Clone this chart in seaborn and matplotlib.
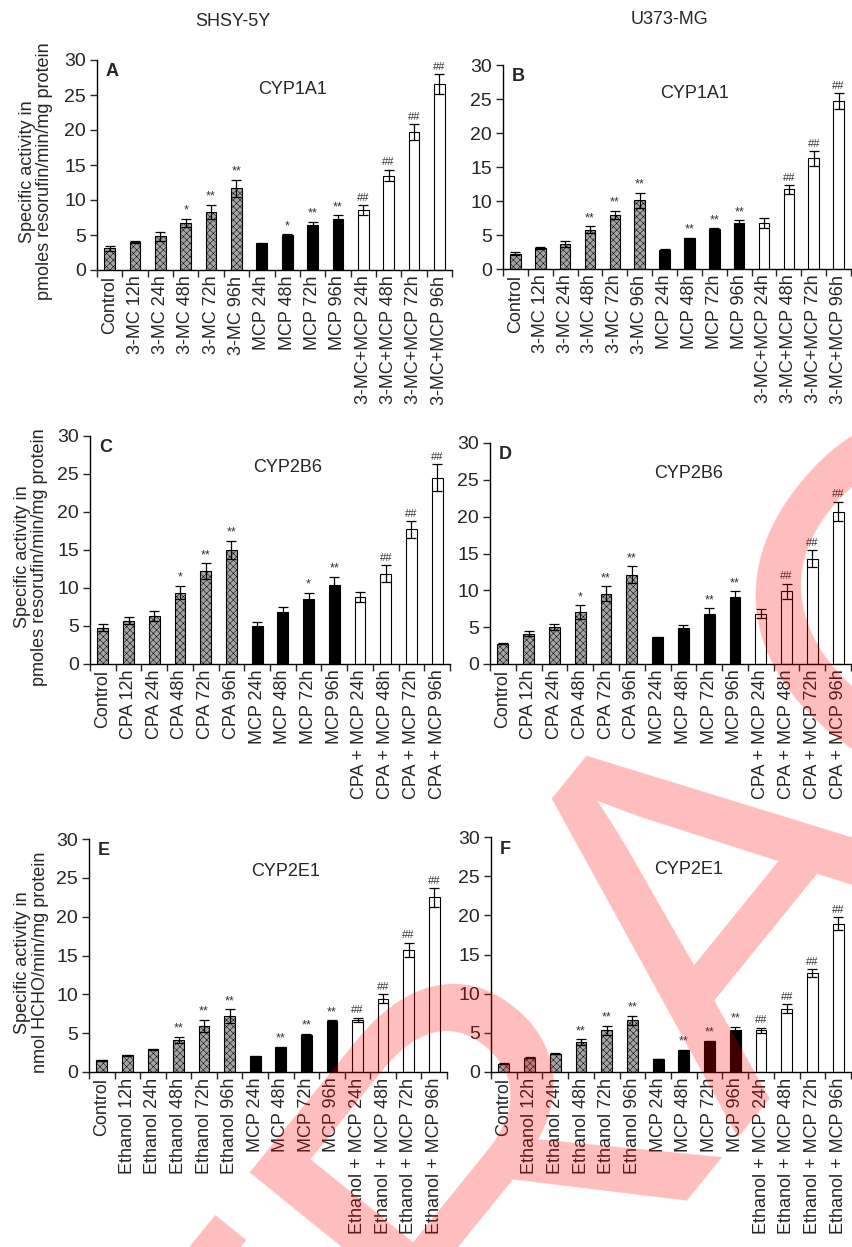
import numpy as np
import pandas as pd
import matplotlib
matplotlib.use('Agg')
import matplotlib.pyplot as plt
import seaborn as sns

# ---- data ----
groups = ['ind'] * 6 + ['mcp'] * 4 + ['combo'] * 4

a_labels = ['Control', '3-MC 12h', '3-MC 24h', '3-MC 48h', '3-MC 72h', '3-MC 96h',
            'MCP 24h', 'MCP 48h', 'MCP 72h', 'MCP 96h',
            '3-MC+MCP 24h', '3-MC+MCP 48h', '3-MC+MCP 72h', '3-MC+MCP 96h']
a_vals = [3.1, 4.0, 4.8, 6.7, 8.3, 11.7, 3.8, 5.0, 6.4, 7.3, 8.6, 13.5, 19.7, 26.6]
a_err = [0.4, 0.15, 0.7, 0.6, 1.0, 1.2, 0.05, 0.1, 0.5, 0.5, 0.7, 0.85, 1.1, 1.4]
a_sig = ['', '', '', '*', '**', '**', '', '*', '**', '**', '##', '##', '##', '##']

b_vals = [2.25, 3.1, 3.7, 5.8, 8.0, 10.1, 2.85, 4.5, 5.9, 6.8, 6.8, 11.7, 16.3, 24.7]
b_err = [0.2, 0.1, 0.4, 0.5, 0.6, 1.1, 0.05, 0.1, 0.1, 0.35, 0.7, 0.7, 1.1, 1.2]
b_sig = ['', '', '', '**', '**', '**', '', '**', '**', '**', '', '##', '##', '##']

c_labels = ['Control', 'CPA 12h', 'CPA 24h', 'CPA 48h', 'CPA 72h', 'CPA 96h',
            'MCP 24h', 'MCP 48h', 'MCP 72h', 'MCP 96h',
            'CPA + MCP 24h', 'CPA + MCP 48h', 'CPA + MCP 72h', 'CPA + MCP 96h']
c_vals = [4.8, 5.7, 6.35, 9.4, 12.2, 15.0, 5.05, 6.9, 8.6, 10.35, 8.8, 11.9, 17.7, 24.5]
c_err = [0.45, 0.5, 0.65, 0.9, 1.05, 1.2, 0.5, 0.65, 0.8, 1.1, 0.65, 1.1, 1.1, 1.75]
c_sig = ['', '', '', '*', '**', '**', '', '', '*', '**', '', '##', '##', '##']

d_vals = [2.75, 4.1, 5.0, 7.0, 9.55, 12.1, 3.6, 4.9, 6.85, 9.05, 6.85, 9.85, 14.3, 20.7]
d_err = [0.1, 0.35, 0.4, 0.95, 1.0, 1.15, 0.1, 0.35, 0.7, 0.8, 0.55, 1.05, 1.2, 1.35]
d_sig = ['', '', '', '*', '**', '**', '', '', '**', '**', '', '##', '##', '##']

e_labels = ['Control', 'Ethanol 12h', 'Ethanol 24h', 'Ethanol 48h', 'Ethanol 72h', 'Ethanol 96h',
            'MCP 24h', 'MCP 48h', 'MCP 72h', 'MCP 96h',
            'Ethanol + MCP 24h', 'Ethanol + MCP 48h', 'Ethanol + MCP 72h', 'Ethanol + MCP 96h']
e_vals = [1.5, 2.15, 2.9, 4.1, 5.95, 7.2, 2.0, 3.2, 4.8, 6.55, 6.7, 9.45, 15.7, 22.5]
e_err = [0.05, 0.05, 0.05, 0.4, 0.75, 0.85, 0.05, 0.05, 0.1, 0.1, 0.3, 0.55, 0.95, 1.2]
e_sig = ['', '', '', '**', '**', '**', '', '**', '**', '**', '##', '##', '##', '##']

f_vals = [1.05, 1.85, 2.35, 3.8, 5.3, 6.6, 1.65, 2.75, 3.9, 5.4, 5.3, 8.1, 12.65, 18.95]
f_err = [0.05, 0.05, 0.05, 0.35, 0.55, 0.6, 0.05, 0.1, 0.05, 0.4, 0.35, 0.6, 0.5, 0.85]
f_sig = ['', '', '', '**', '**', '**', '', '**', '**', '**', '##', '##', '##', '##']

ylabel_res = 'Specific activity in\npmoles resorufin/min/mg protein'
ylabel_hcho = 'Specific activity in\nnmol HCHO/min/mg protein'

sns.set_style('ticks')
plt.rcParams['font.family'] = ['Liberation Sans', 'DejaVu Sans']
plt.rcParams['hatch.linewidth'] = 0.35

W, H = 852, 1247
fig = plt.figure(figsize=(W / 100, H / 100), dpi=100)

palette = {'ind': '#a4a4a4', 'mcp': 'black', 'combo': 'white'}


def rect(x0, x1, y0, y1):
    return [x0 / W, 1 - y1 / H, (x1 - x0) / W, (y1 - y0) / H]


def panel(box, labels, vals, errs, sigs, letter, title, ylabel=None, ylab_x=-0.17):
    ax = fig.add_axes(rect(*box))
    df = pd.DataFrame({'label': labels, 'value': vals, 'group': groups})
    sns.barplot(data=df, x='label', y='value', hue='group', order=labels,
                hue_order=['ind', 'mcp', 'combo'], palette=palette, dodge=False,
                width=0.42, edgecolor='black', linewidth=0.8, legend=False, ax=ax)
    for p in ax.patches:
        i = int(round(p.get_x() + p.get_width() / 2))
        if 0 <= i < len(groups) and groups[i] == 'ind':
            p.set_hatch('xxxxx')
    ax.errorbar(np.arange(len(vals)), vals, yerr=errs, fmt='none', ecolor='black',
                elinewidth=0.9, capsize=3.5, capthick=0.9, zorder=5)
    for i, s in enumerate(sigs):
        if s:
            ax.text(i, vals[i] + errs[i] + 0.3, s, ha='center', va='bottom',
                    fontsize=9 if '*' in s else 8, color='#333333')
    ax.set_xlim(-0.5, len(vals) - 0.5)
    ax.set_ylim(0, 30)
    ax.set_yticks(range(0, 31, 5))
    ax.set_xticks(range(len(vals)))
    ax.set_xticklabels(labels, rotation=90)
    ax.set_xticks(np.arange(-0.5, len(vals), 1), minor=True)
    ax.tick_params(axis='x', which='major', length=0, pad=4, labelsize=13)
    ax.tick_params(axis='x', which='minor', length=5, width=1, direction='out')
    ax.tick_params(axis='y', length=5, width=1, direction='out', labelsize=14, pad=3)
    ax.set_xlabel('')
    sns.despine(ax=ax)
    for sp in ['left', 'bottom']:
        ax.spines[sp].set_linewidth(1)
        ax.spines[sp].set_color('black')
    if ylabel:
        ax.set_ylabel(ylabel, fontsize=13, linespacing=1.05)
        ax.yaxis.label.set_verticalalignment('center')
        ax.yaxis.set_label_coords(ylab_x, 0.47)
    else:
        ax.set_ylabel('')
    ax.text(0.025, 0.985, letter, transform=ax.transAxes, fontsize=13,
            fontweight='bold', ha='left', va='top')
    ax.text(0.55, 0.86, title, transform=ax.transAxes, fontsize=13,
            ha='center', va='center')
    return ax


panel((97, 452, 60, 270), a_labels, a_vals, a_err, a_sig, 'A', 'CYP1A1', ylabel_res, -0.172)
panel((503, 851, 65, 269), a_labels, b_vals, b_err, b_sig, 'B', 'CYP1A1')
panel((90, 450, 436, 664), c_labels, c_vals, c_err, c_sig, 'C', 'CYP2B6', ylabel_res, -0.164)
panel((490, 851, 443, 664), c_labels, d_vals, d_err, d_sig, 'D', 'CYP2B6')
panel((89, 447, 839, 1072), e_labels, e_vals, e_err, e_sig, 'E', 'CYP2E1', ylabel_hcho, -0.16)
panel((491, 851, 837, 1072), e_labels, f_vals, f_err, f_sig, 'F', 'CYP2E1')

fig.text(233 / W, 1 - 22 / H, 'SHSY-5Y', ha='center', va='center', fontsize=13)
fig.text(670 / W, 1 - 20 / H, 'U373-MG', ha='center', va='center', fontsize=13)

# retraction watermark
fig.text(728 / W, 1 - 885 / H, 'RETRACTED', ha='center', va='center', fontsize=375,
         rotation=51, rotation_mode='anchor', color='red', alpha=0.26, zorder=20)

fig.savefig('out.png', dpi=100)
